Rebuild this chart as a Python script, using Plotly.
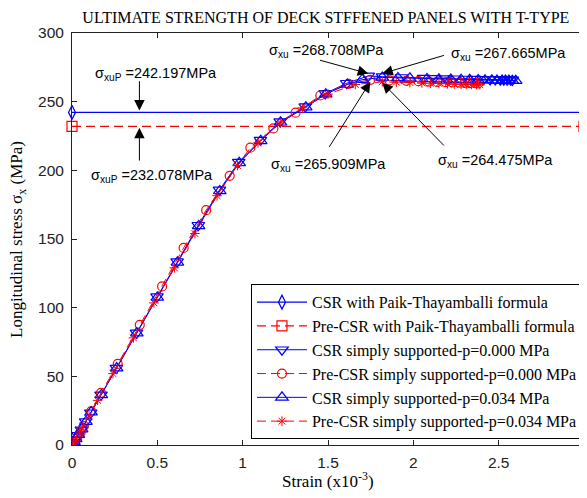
import plotly.graph_objects as go

# ---------------- data ----------------
paik_x = [0, 3]
csr_paik = [242.197, 242.197]
pre_paik = [232.078, 232.078]

x_csr0 = [0, 0.004, 0.01, 0.02, 0.035, 0.055, 0.08, 0.11, 0.17, 0.26, 0.378, 0.498, 0.616, 0.74,
          0.864, 0.977, 1.104, 1.22, 1.367, 1.484, 1.61, 1.736, 1.82, 1.93, 2.06, 2.12, 2.19, 2.24,
          2.31, 2.36, 2.41, 2.45, 2.48, 2.51, 2.53, 2.55, 2.57, 2.58]
y_csr0 = [0, 1, 2, 4, 7, 11, 17, 23.5, 36.5, 56, 81.6, 108, 133.5, 160, 185.7, 206, 222, 235.5,
          246.4, 256, 263.4, 268.708, 268.2, 267.6, 267.2, 267.0, 266.8, 266.7, 266.5, 266.4, 266.3,
          266.2, 266.1, 266.0, 266.0, 265.9, 265.9, 265.8]

x_pre0 = [0, 0.01, 0.03, 0.05, 0.07, 0.112, 0.17, 0.268, 0.397, 0.528, 0.654, 0.786, 0.924, 1.045,
          1.18, 1.31, 1.455, 1.62, 1.748, 1.86, 1.96, 2.03, 2.09, 2.14, 2.19, 2.23, 2.27, 2.3, 2.33,
          2.36, 2.38]
y_pre0 = [0, 2, 5, 9, 14, 24.5, 38, 59, 87.5, 115.5, 143.5, 171, 196, 216.5, 230.5, 242, 254.5,
          263.0, 265.909, 265.5, 265.2, 264.9, 264.6, 264.4, 264.2, 264.0, 263.8, 263.7, 263.5,
          263.4, 263.3]

x_csr034 = [0, 0.005, 0.012, 0.022, 0.037, 0.057, 0.082, 0.112, 0.172, 0.262, 0.38, 0.5, 0.618,
            0.742, 0.866, 0.98, 1.106, 1.222, 1.37, 1.487, 1.613, 1.70, 1.818, 1.91, 1.98, 2.08,
            2.15, 2.22, 2.28, 2.33, 2.38, 2.42, 2.46, 2.49, 2.52, 2.54, 2.56, 2.58, 2.6]
y_csr034 = [0, 1, 2.5, 4.5, 7.5, 11.5, 17, 24, 36.5, 56, 81.5, 107.5, 133, 159.5, 185, 205.5,
            221.5, 235, 246, 255.5, 262.5, 266, 267.665, 267.3, 267.0, 266.6, 266.4, 266.2, 266.0,
            265.9, 265.8, 265.7, 265.6, 265.5, 265.5, 265.4, 265.4, 265.3, 265.3]

x_pre034 = [0, 0.008, 0.025, 0.045, 0.065, 0.1, 0.15, 0.24, 0.36, 0.48, 0.6, 0.72, 0.85, 0.97,
            1.09, 1.22, 1.35, 1.5, 1.66, 1.818, 1.9, 1.98, 2.05, 2.1, 2.15, 2.2, 2.24, 2.28, 2.31,
            2.34, 2.37, 2.39]
y_pre034 = [0, 1.5, 5, 9.5, 14, 21.5, 32.5, 52, 78, 103.5, 129, 154, 181.5, 203.5, 220, 234.5,
            245.5, 255.5, 262.5, 264.475, 264.2, 263.9, 263.6, 263.4, 263.2, 263.0, 262.8, 262.7,
            262.6, 262.5, 262.4, 262.3]

series_names = [
    "CSR with Paik-Thayamballi formula",
    "Pre-CSR with Paik-Thayamballi formula",
    "CSR simply supported-p=0.000 MPa",
    "Pre-CSR simply supported-p=0.000 MPa",
    "CSR simply supported-p=0.034 MPa",
    "Pre-CSR simply supported-p=0.034 MPa",
]

x_ticks = [0, 0.5, 1, 1.5, 2, 2.5, 3]
x_tick_labels = ["0", "0.5", "1", "1.5", "2", "2.5", "3"]
y_ticks = [0, 50, 100, 150, 200, 250, 300]

BLUE = "#0000FF"
RED = "#FF0000"
DASH = "9px,5px"
SERIF = "Liberation Serif, Times New Roman, serif"
SANS = "Liberation Sans, Arial, sans-serif"

fig = go.Figure()

fig.add_trace(go.Scatter(x=paik_x, y=csr_paik, name=series_names[0], mode="lines+markers",
                         line=dict(color=BLUE, width=1.2),
                         marker=dict(symbol="diamond-tall-open", size=10, color=BLUE,
                                     line=dict(width=1.2)),
                         cliponaxis=False))
fig.add_trace(go.Scatter(x=paik_x, y=pre_paik, name=series_names[1], mode="lines+markers",
                         line=dict(color=RED, width=1.2, dash=DASH),
                         marker=dict(symbol="square-open", size=10, color=RED,
                                     line=dict(width=1.2)),
                         cliponaxis=False))
fig.add_trace(go.Scatter(x=x_csr0, y=y_csr0, name=series_names[2], mode="lines+markers",
                         line=dict(color=BLUE, width=1),
                         marker=dict(symbol="triangle-down-open", size=11, color=BLUE,
                                     line=dict(width=1.2))))
fig.add_trace(go.Scatter(x=x_pre0, y=y_pre0, name=series_names[3], mode="lines+markers",
                         line=dict(color=RED, width=1, dash=DASH),
                         marker=dict(symbol="circle-open", size=9, color=RED,
                                     line=dict(width=1.2))))
fig.add_trace(go.Scatter(x=x_csr034, y=y_csr034, name=series_names[4], mode="lines+markers",
                         line=dict(color=BLUE, width=1),
                         marker=dict(symbol="triangle-up-open", size=11, color=BLUE,
                                     line=dict(width=1.2))))
fig.add_trace(go.Scatter(x=x_pre034, y=y_pre034, name=series_names[5], mode="lines+markers",
                         line=dict(color=RED, width=1, dash=DASH),
                         marker=dict(symbol="asterisk-open", size=8, color=RED,
                                     line=dict(width=1))))

# ---------------- annotations ----------------
ann_font = dict(family=SANS, size=14.5, color="black")
texts = [
    ("σ<sub>xuP</sub> =242.197MPa", 0.49, 270),
    ("σ<sub>xuP</sub> =232.078MPa", 0.47, 196),
    ("σ<sub>xu</sub> =268.708MPa", 1.49, 287),
    ("σ<sub>xu</sub> =267.665MPa", 2.557, 285),
    ("σ<sub>xu</sub> =265.909MPa", 1.503, 204),
    ("σ<sub>xu</sub> =264.475MPa", 2.48, 207),
]
for t, x, y in texts:
    fig.add_annotation(x=x, y=y, text=t, showarrow=False, font=ann_font,
                       xanchor="center", yanchor="middle")

arrows = [
    # tip x, tip y, tail x, tail y
    (0.395, 243.5, 0.395, 266),
    (0.395, 231.0, 0.395, 206),
    (1.736, 270.5, 1.444, 280.5),
    (1.818, 270.5, 2.188, 284),
    (1.748, 264.5, 1.502, 216),
    (1.818, 263.8, 2.188, 217),
]
for tx, ty, sx, sy in arrows:
    fig.add_annotation(x=tx, y=ty, ax=sx, ay=sy, axref="x", ayref="y", text="",
                       showarrow=True, arrowhead=2, arrowsize=2.1, arrowwidth=1,
                       arrowcolor="black", standoff=0)

# axis titles as annotations for exact placement
fig.add_annotation(x=-0.1055, y=0.5, xref="paper", yref="paper",
                   text="Longitudinal stress σ<sub>x</sub> (MPa)", textangle=-90,
                   showarrow=False, xanchor="center", yanchor="middle",
                   font=dict(family=SERIF, size=17, color="black"))
fig.add_annotation(x=0.5, y=-0.086, xref="paper", yref="paper",
                   text="Strain (x10<sup>-3</sup>)", showarrow=False,
                   xanchor="center", yanchor="middle",
                   font=dict(family=SERIF, size=17, color="black"))

axis_common = dict(showline=True, linecolor="#222", linewidth=1, mirror="ticks",
                   ticks="inside", ticklen=5, tickcolor="#222", showgrid=False, zeroline=False,
                   automargin=False,
                   tickfont=dict(family=SANS, size=15.5, color="#222"))

# page body has an 8px margin; figure is sized/offset to compensate
fig.update_layout(
    width=579, height=490,
    margin=dict(l=64, r=3, t=25, b=53),
    paper_bgcolor="white", plot_bgcolor="white",
    title=dict(text="ULTIMATE STRENGTH OF DECK STFFENED PANELS WITH T-TYPE",
               font=dict(family=SERIF, size=16, color="black"),
               x=0.549, xanchor="center", y=0.992, yanchor="top"),
    xaxis=dict(range=[0, 3], tickvals=x_ticks, ticktext=x_tick_labels,
               ticklabelstandoff=3, **axis_common),
    yaxis=dict(range=[0, 300], tickvals=y_ticks, ticklabelstandoff=4, **axis_common),
    legend=dict(x=0.998, xanchor="right", y=0.014, yanchor="bottom",
                bgcolor="white", bordercolor="black", borderwidth=1,
                font=dict(family=SERIF, size=16, color="black"),
                itemwidth=50, tracegroupgap=0),
    showlegend=True,
)

fig.write_html("out.html")
